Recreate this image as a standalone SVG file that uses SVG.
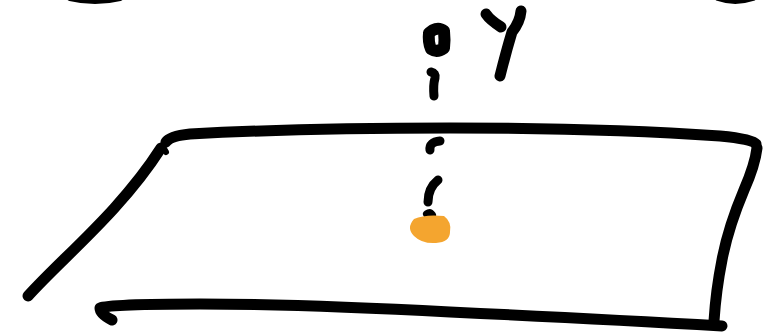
<svg xmlns="http://www.w3.org/2000/svg" width="764" height="334" viewBox="0 0 764 334">
<style>
.s{fill:none;stroke:#000;stroke-linecap:round;stroke-linejoin:round}
</style>
<rect width="764" height="334" fill="#fff"/>
<g id="arcs">
<path class="s" stroke-width="6" d="M70 -2 Q95 4 120 -2"/>
<path class="s" stroke-width="6" d="M718 -2 Q735 4 753 -2"/>
</g>
<g id="plane">
<path class="s" stroke-width="11" d="M166 142 Q170 136 190 134 Q300 128 450 128 Q600 128 720 136 Q752 139 756 144"/>
<path class="s" stroke-width="11" d="M161 148 C120 212 62 258 28 296"/>
<path class="s" stroke-width="6" d="M163 147 L166 152"/>
<path class="s" stroke-width="11" d="M757 148 Q755 165 744 190 Q728 228 722 260 Q716 290 714 321"/>
<path class="s" stroke-width="11" d="M112 320 Q100 314 100 308 Q110 304 200 304 Q300 304 450 312 Q600 319 722 326"/>
</g>
<g id="axis">
<path class="s" stroke-width="12" d="M433 30 Q439 27 444 31 Q445 40 444 48 Q437 53 431 49 Q428 42 429 33 Z" fill="#000"/>
<path class="s" stroke-width="9" d="M431 72 Q436 73 435 78 Q433 85 434 96"/>
<path class="s" stroke-width="9" d="M430 150 Q429 142 440 141"/>
<path class="s" stroke-width="9" d="M428 202 Q428 188 438 180"/>
<path class="s" stroke-width="8" d="M427 214 Q430 212 432 215"/>
<path d="M414 219 Q425 214 444 216 Q452 222 450 232 Q450 242 436 243 Q422 244 414 236 Q406 228 414 219 Z" fill="#f4a52f"/>
</g>
<g id="label-y">
<path class="s" stroke-width="11" d="M486 14 Q490 20 501 27"/>
<path class="s" stroke-width="11" d="M521 11 Q520 22 512 32 Q506 52 500 76"/>
</g>
</svg>
